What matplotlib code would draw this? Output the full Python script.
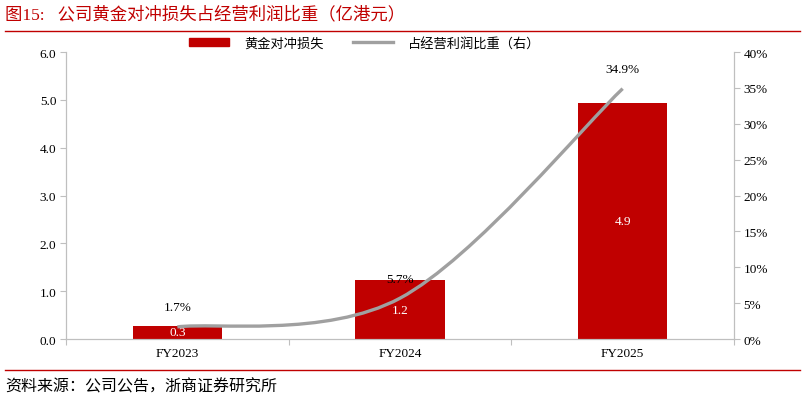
import matplotlib
matplotlib.use('Agg')
import matplotlib.pyplot as plt
from matplotlib.path import Path
from matplotlib.patches import PathPatch, Patch
from matplotlib.lines import Line2D

plt.rcParams['font.family'] = ['Liberation Serif', 'Noto Sans CJK SC']

categories = ['FY2023', 'FY2024', 'FY2025']
loss = [0.28, 1.23, 4.94]          # 亿港元
ratio = [1.7, 5.7, 34.9]           # %
ratio_labels = ['1.7%', '5.7%', '34.9%']

red = '#C00000'
gray = '#A0A0A0'
axcol = '#BFBFBF'

fig = plt.figure(figsize=(8.02, 4.02), dpi=100)
ax = fig.add_axes([0.0823, 0.154, 0.8329, 0.714])
ax2 = ax.twinx()

x = list(range(len(categories)))
bars = ax.bar(x, loss, width=0.4, color=red, zorder=2)
for xi, v in zip(x, loss):
    ax.text(xi, v / 2, f'{v:.1f}', ha='center', va='center', color='white', fontsize=9.5, zorder=5)

ax.set_xlim(-0.5, 2.5)
ax.set_ylim(0, 6)
ax.set_yticks([0, 1, 2, 3, 4, 5, 6])
ax.set_yticklabels([f'{t:.1f}' for t in range(7)])
ax2.set_ylim(0, 40)
ax2.set_yticks(range(0, 41, 5))
ax2.set_yticklabels([f'{t}%' for t in range(0, 41, 5)])

# category labels at centres, tick marks at boundaries
ax.set_xticks([-0.5, 0.5, 1.5, 2.5])
ax.set_xticklabels([])
ax.set_xticks(x, minor=True)
ax.set_xticklabels(categories, minor=True)
ax.tick_params(axis='x', which='minor', length=0, pad=6, labelsize=9.5)
ax.tick_params(axis='x', which='major', length=4, color=axcol)
ax.tick_params(axis='y', length=4, color=axcol, labelsize=9.5, pad=3)
ax2.tick_params(axis='y', length=4, color=axcol, labelsize=9.5, pad=3)

for a in (ax, ax2):
    a.spines['top'].set_visible(False)
    for s in ('left', 'right', 'bottom'):
        a.spines[s].set_color(axcol)

# smoothed line (Excel-like bezier through the points)
pts = list(zip(x, ratio))
verts = [pts[0]]
codes = [Path.MOVETO]
n = len(pts)
for i in range(n - 1):
    p0 = pts[i - 1] if i > 0 else pts[i]
    p1 = pts[i]
    p2 = pts[i + 1]
    p3 = pts[i + 2] if i + 2 < n else pts[i + 1]
    c1 = (p1[0] + (p2[0] - p0[0]) / 6, p1[1] + (p2[1] - p0[1]) / 6)
    c2 = (p2[0] - (p3[0] - p1[0]) / 6, p2[1] - (p3[1] - p1[1]) / 6)
    verts += [c1, c2, p2]
    codes += [Path.CURVE4] * 3
ax2.add_patch(PathPatch(Path(verts, codes), facecolor='none', edgecolor=gray, lw=2.4, zorder=4))
for xi, v, lab in zip(x, ratio, ratio_labels):
    ax2.annotate(lab, (xi, v), xytext=(0, 14), textcoords='offset points',
                 ha='center', va='center', fontsize=9.5, zorder=6)

handles = [Patch(color=red), Line2D([], [], color=gray, lw=2.4)]
fig.legend(handles, ['黄金对冲损失', '占经营利润比重（右）'], loc='center',
           bbox_to_anchor=(0.455, 0.89), ncol=2, frameon=False, fontsize=9.5,
           handlelength=3.0, handleheight=0.6, columnspacing=2.2, handletextpad=1.2)

fig.text(0.006, 0.962, '图15:   公司黄金对冲损失占经营利润比重（亿港元）', color=red,
         fontsize=12.5, ha='left', va='center')
fig.add_artist(Line2D([0.006, 0.998], [0.92, 0.92], color=red, lw=1))
fig.add_artist(Line2D([0.006, 0.998], [0.077, 0.077], color=red, lw=1))
fig.text(0.006, 0.037, '资料来源：公司公告，浙商证券研究所', fontsize=11.5, ha='left', va='center')

fig.savefig('out.png', dpi=100)
